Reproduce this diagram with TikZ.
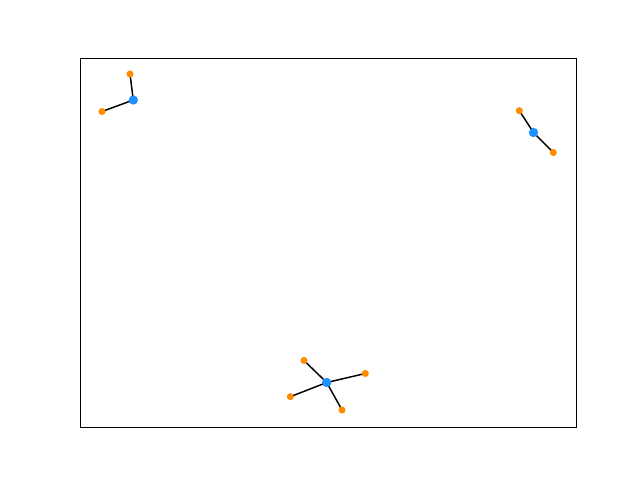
\documentclass[tikz,border=0pt]{standalone}
\usepackage{tikz}
\definecolor{hubblue}{HTML}{1E90FF}
\definecolor{leaforange}{HTML}{FF8C00}

\begin{document}
\begin{tikzpicture}[x=0.75pt, y=-0.75pt,
    hub/.style={circle, fill=hubblue, inner sep=0pt, minimum size=7pt},
    leaf/.style={circle, fill=leaforange, inner sep=0pt, minimum size=5.3pt},
    edge/.style={line width=1.1pt, black}]
    \useasboundingbox (0,0) rectangle (640,480);
    \draw[line width=0.6pt] (80,58) rectangle (576,427);
    % upper left group
    \coordinate (a1) at (130,74);
    \coordinate (a2) at (102,111.5);
    \coordinate (a)  at (133.3,100);
    % upper right group
    \coordinate (b1) at (519.3,110.7);
    \coordinate (b2) at (553.3,152.5);
    \coordinate (b)  at (533.5,132.5);
    % lower group
    \coordinate (c1) at (304,360.5);
    \coordinate (c2) at (365.3,373.5);
    \coordinate (c3) at (290.3,396.7);
    \coordinate (c4) at (342,410);
    \coordinate (c)  at (326.7,382.5);
    \draw[edge] (a) -- (a1) (a) -- (a2);
    \draw[edge] (b) -- (b1) (b) -- (b2);
    \foreach \k in {1,...,4}
        \draw[edge] (c) -- (c\k);
    % dots over the lines
    \foreach \n/\s in {a1/leaf,a2/leaf,b1/leaf,b2/leaf,c1/leaf,c2/leaf,c3/leaf,c4/leaf,a/hub,b/hub,c/hub}
        \node[\s] (\n-dot) at (\n) {};
\end{tikzpicture}
\end{document}
